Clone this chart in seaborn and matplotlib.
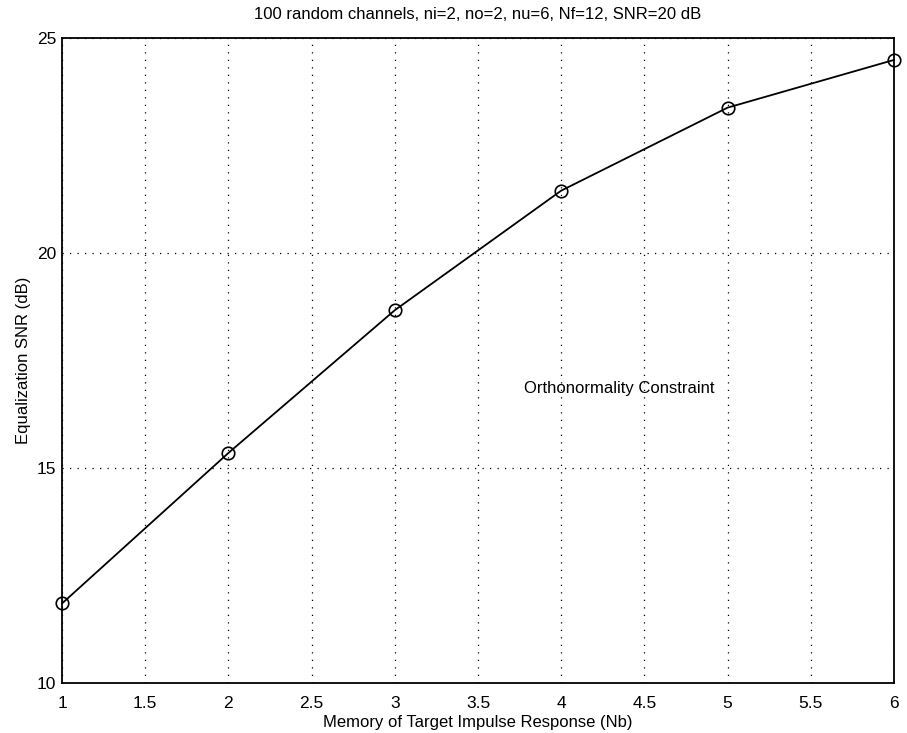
import pandas as pd
import matplotlib
matplotlib.use('Agg')
import matplotlib.pyplot as plt
import seaborn as sns

# memory of target impulse response vs equalization SNR
nb = [1, 2, 3, 4, 5, 6]
snr_db = [11.85, 15.35, 18.67, 21.45, 23.38, 24.49]
x_ticks = [1, 1.5, 2, 2.5, 3, 3.5, 4, 4.5, 5, 5.5, 6]
x_tick_labels = ['1', '1.5', '2', '2.5', '3', '3.5', '4', '4.5', '5', '5.5', '6']
y_ticks = [10, 15, 20, 25]

df = pd.DataFrame({'Nb': nb, 'SNR': snr_db})

sns.set_style('white')
plt.rcParams['font.family'] = ['Liberation Sans', 'DejaVu Sans']
plt.rcParams['text.color'] = 'black'
plt.rcParams['axes.labelcolor'] = 'black'

fig = plt.figure(figsize=(9.07, 7.33), dpi=100)
ax = fig.add_axes([0.0684, 0.0682, 0.9173, 0.88])

sns.lineplot(data=df, x='Nb', y='SNR', ax=ax, color='black', linewidth=1.3,
             marker='o', markersize=9, markerfacecolor='none',
             markeredgecolor='black', markeredgewidth=1.2, clip_on=False, zorder=5)

ax.set_xlim(1, 6)
ax.set_ylim(10, 25)
ax.set_xticks(x_ticks)
ax.set_xticklabels(x_tick_labels)
ax.set_yticks(y_ticks)
ax.grid(True, linestyle=(0, (1, 5)), color='black', linewidth=0.9)
ax.tick_params(direction='in', length=5, width=1, labelsize=12.5, colors='black')
ax.tick_params(axis='x', pad=9)
ax.tick_params(axis='y', pad=4)
for s in ax.spines.values():
    s.set_color('black')
    s.set_linewidth(1.3)

ax.set_xlabel('Memory of Target Impulse Response (Nb)', fontsize=12, labelpad=3)
ax.set_ylabel('Equalization SNR (dB)', fontsize=12, labelpad=4)
ax.set_title('100 random channels, ni=2, no=2, nu=6, Nf=12, SNR=20 dB', fontsize=12, pad=14)
ax.text(4.35, 16.86, 'Orthonormality Constraint', fontsize=12, ha='center', va='center')

fig.savefig('out.png', dpi=100)
